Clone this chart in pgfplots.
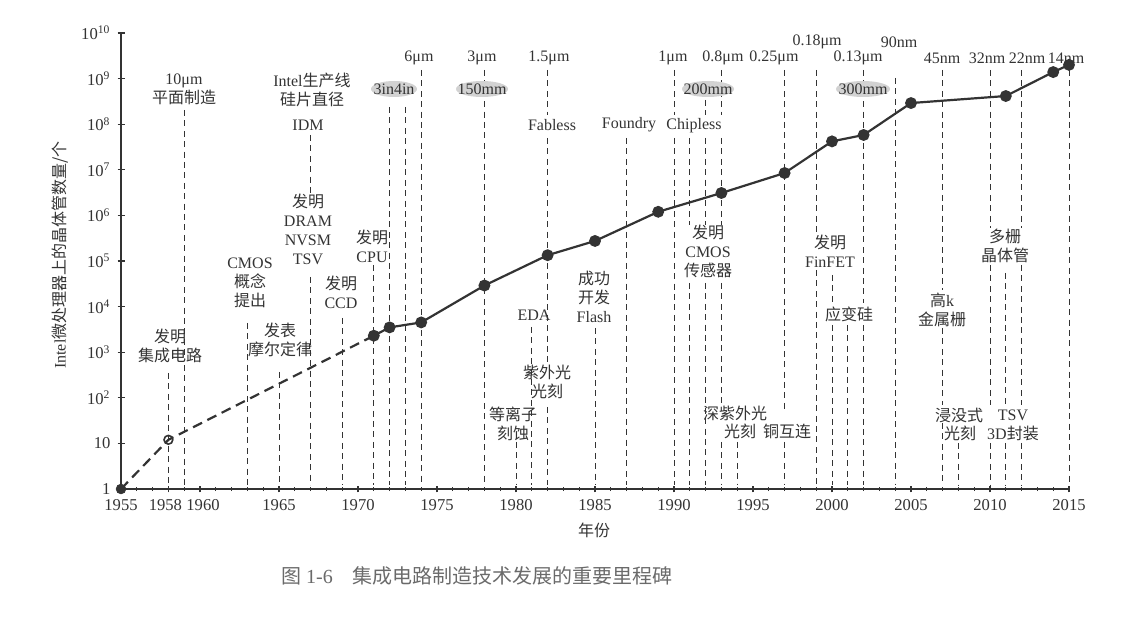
\documentclass[border=0pt]{standalone}
\usepackage{fontspec}
\setmainfont{Liberation Serif}
\newfontfamily\cjk{Noto Sans CJK SC}
\usepackage{pgfplots}
\pgfplotsset{compat=1.18}

\definecolor{ink}{HTML}{333333}
\definecolor{capgray}{HTML}{6a6a6a}
\definecolor{hilite}{HTML}{d2d2d2}

% picture laid out in reference pixels (1 px = 0.5pt, y measured from top)
\newcommand\yr[1]{121+15.8*(#1-1955)}
\newcommand\ms[3]{\draw[msl] ({\yr{#1}},{616-#2}) -- ({\yr{#1}},{616-#3});}
\newcommand\lb[3]{\node[lbl] at ({#1},{616-#2}) {#3};}
\newcommand\hl[4]{\fill[hilite] ({#1},{616-#2}) ellipse [x radius=#3, y radius=8];
  \node[lbl] at ({#1},{616-#2}) {#4};}

\begin{document}
\begin{tikzpicture}
\useasboundingbox (0,0) rectangle (564.5pt,308pt);

\begin{scope}[x=0.5pt, y=0.5pt,
  msl/.style={ink, line width=0.5pt, dash pattern=on 3pt off 2.2pt},
  lbl/.style={text=ink, font=\fontsize{8}{9.5}\selectfont, align=center, inner sep=0pt}]
% milestone lines
\ms{1958}{373}{485}
\ms{1959}{110}{357} \ms{1959}{365}{485}
\ms{1963}{323}{485}
\ms{1965}{372}{485}
\ms{1967}{135}{195} \ms{1967}{277}{485}
\ms{1969}{318}{485}
\ms{1971}{265}{485}
\ms{1972}{107}{485}
\ms{1973}{107}{485}
\ms{1974}{70}{485}
\ms{1978}{70}{485}
\ms{1980}{442}{485}
\ms{1981}{327}{485}
\ms{1982}{70}{115} \ms{1982}{138}{363} \ms{1982}{407}{485}
\ms{1985}{328}{485}
\ms{1987}{138}{485}
\ms{1990}{70}{115} \ms{1990}{138}{485}
\ms{1991}{138}{225} \ms{1991}{283}{485}
\ms{1992}{100}{115} \ms{1992}{138}{225} \ms{1992}{283}{485}
\ms{1993}{70}{115} \ms{1993}{138}{225} \ms{1993}{283}{405} \ms{1993}{442}{485}
\ms{1994}{442}{485}
\ms{1997}{70}{410} \ms{1997}{442}{485}
\ms{1999}{70}{235} \ms{1999}{270}{485}
\ms{2000}{275}{303} \ms{2000}{325}{485}
\ms{2001}{325}{485}
\ms{2002}{70}{303} \ms{2002}{325}{485}
\ms{2004}{78}{485}
\ms{2007}{70}{290} \ms{2007}{328}{405} \ms{2007}{423}{485}
\ms{2008}{443}{485}
\ms{2010}{70}{228} \ms{2010}{265}{405} \ms{2010}{443}{485}
\ms{2011}{273}{405} \ms{2011}{443}{485}
\ms{2012}{70}{228} \ms{2012}{265}{405} \ms{2012}{443}{485}
\ms{2015}{70}{485}

% wafer sizes
\hl{394}{89}{23}{3in4in}
\hl{482}{89}{26}{150mm}
\hl{708}{89}{26}{200mm}
\hl{863}{89}{27}{300mm}

% feature sizes
\lb{419}{58}{6μm}
\lb{482}{58}{3μm}
\lb{549}{58}{1.5μm}
\lb{673}{58}{1μm}
\lb{723}{58}{0.8μm}
\lb{774}{58}{0.25μm}
\lb{817}{42}{0.18μm}
\lb{858}{58}{0.13μm}
\lb{899}{42}{90nm}
\lb{942}{58}{45nm}
\lb{987}{58}{32nm}
\lb{1027}{58}{22nm}
\lb{1066}{58}{14nm}

% events
\lb{184}{89.5}{10μm\\{\cjk 平面制造}}
\lb{312}{89.5}{Intel{\cjk 生产线}\\{\cjk 硅片直径}}
\lb{308}{125}{IDM}
\lb{308}{229.5}{{\cjk 发明}\\DRAM\\NVSM\\TSV}
\lb{250}{283}{CMOS\\{\cjk 概念}\\{\cjk 提出}}
\lb{341}{292.5}{{\cjk 发明}\\CCD}
\lb{372}{246.5}{{\cjk 发明}\\CPU}
\lb{170}{346}{{\cjk 发明}\\{\cjk 集成电路}}
\lb{280}{340}{{\cjk 发表}\\{\cjk 摩尔定律}}
\lb{552}{125}{Fabless}
\lb{629}{125}{Foundry}
\lb{694}{126}{Chipless}
\lb{708}{251}{{\cjk 发明}\\CMOS\\{\cjk 传感器}}
\lb{594}{297}{{\cjk 成功}\\{\cjk 开发}\\Flash}
\lb{534}{315}{EDA}
\lb{547}{382}{{\cjk 紫外光}\\{\cjk 光刻}}
\lb{513}{423.5}{{\cjk 等离子}\\{\cjk 刻蚀}}
\lb{735}{413}{\cjk 深紫外光}
\lb{740}{431}{\cjk 光刻}
\lb{787}{431}{\cjk 铜互连}
\lb{830}{251}{{\cjk 发明}\\FinFET}
\lb{849}{314}{\cjk 应变硅}
\lb{1005}{246}{{\cjk 多栅}\\{\cjk 晶体管}}
\lb{942}{309.5}{{\cjk 高}k\\{\cjk 金属栅}}
\lb{959}{415}{\cjk 浸没式}
\lb{960}{433}{\cjk 光刻}
\lb{1013}{415}{TSV}
\lb{1013}{433}{3D{\cjk 封装}}

% caption
\node[text=capgray, font=\fontsize{10}{12}\selectfont] at (477,{616-576})
  {{\cjk 图}~1-6\quad{\cjk 集成电路制造技术发展的重要里程碑}};
\end{scope}

\begin{axis}[
  at={(60.5pt,63.5pt)}, anchor=south west,
  scale only axis, width=474pt, height=228pt,
  xmin=1955, xmax=2015, ymin=1, ymax=1e10, ymode=log,
  axis lines=left, axis line style={-, ink, line width=0.8pt},
  clip=false,
  xtick={1955,1958,1960,1965,1970,1975,1980,1985,1990,1995,2000,2005,2010,2015},
  xticklabels={1955,\hspace*{-3pt}1958,1960\hspace*{-3pt},1965,1970,1975,1980,1985,1990,1995,2000,2005,2010,2015},
  minor xtick={1956,...,2014},
  ytick={1,10,100,1000,1e4,1e5,1e6,1e7,1e8,1e9,1e10},
  yticklabels={1,10,10\textsuperscript{2},10\textsuperscript{3},10\textsuperscript{4},
    10\textsuperscript{5},10\textsuperscript{6},10\textsuperscript{7},10\textsuperscript{8},
    10\textsuperscript{9},10\textsuperscript{10}},
  yminorticks=false,
  major tick length=3.5pt, minor tick length=2pt,
  every tick/.style={ink, line width=0.6pt},
  tick label style={font=\fontsize{8.3}{10}\selectfont, text=ink},
  label style={font=\fontsize{8}{9}\selectfont, text=ink},
  xlabel={\cjk 年份},
  ylabel={Intel{\cjk 微处理器上的晶体管数量/个}},
  xlabel style={at={(axis description cs:0.499,-0.09)}, anchor=center},
  ylabel style={at={(axis description cs:-0.064,0.513)}, anchor=center},
]
% early years, estimated
\addplot[ink, line width=1.1pt, dash pattern=on 5pt off 3pt] coordinates {
  (1955,1) (1958,12) (1971,2300)
};
% Intel processors
\addplot[ink, line width=1.1pt, mark=*, mark size=2.4pt, mark options={solid, fill=ink}] coordinates {
  (1971,2300) (1972,3500) (1974,4500) (1978,29000) (1982,134000)
  (1985,275000) (1989,1200000) (1993,3100000) (1997,8500000)
  (2000,42000000) (2002,58000000) (2005,291000000) (2011,415000000)
  (2014,1390000000) (2015,2000000000)
};
\addplot[only marks, mark=*, mark size=2.4pt, ink, mark options={fill=ink}] coordinates {(1955,1)};
\addplot[only marks, mark=o, mark size=2.2pt, ink, mark options={fill=white, line width=0.8pt}] coordinates {(1958,12)};
\end{axis}
\end{tikzpicture}
\end{document}
